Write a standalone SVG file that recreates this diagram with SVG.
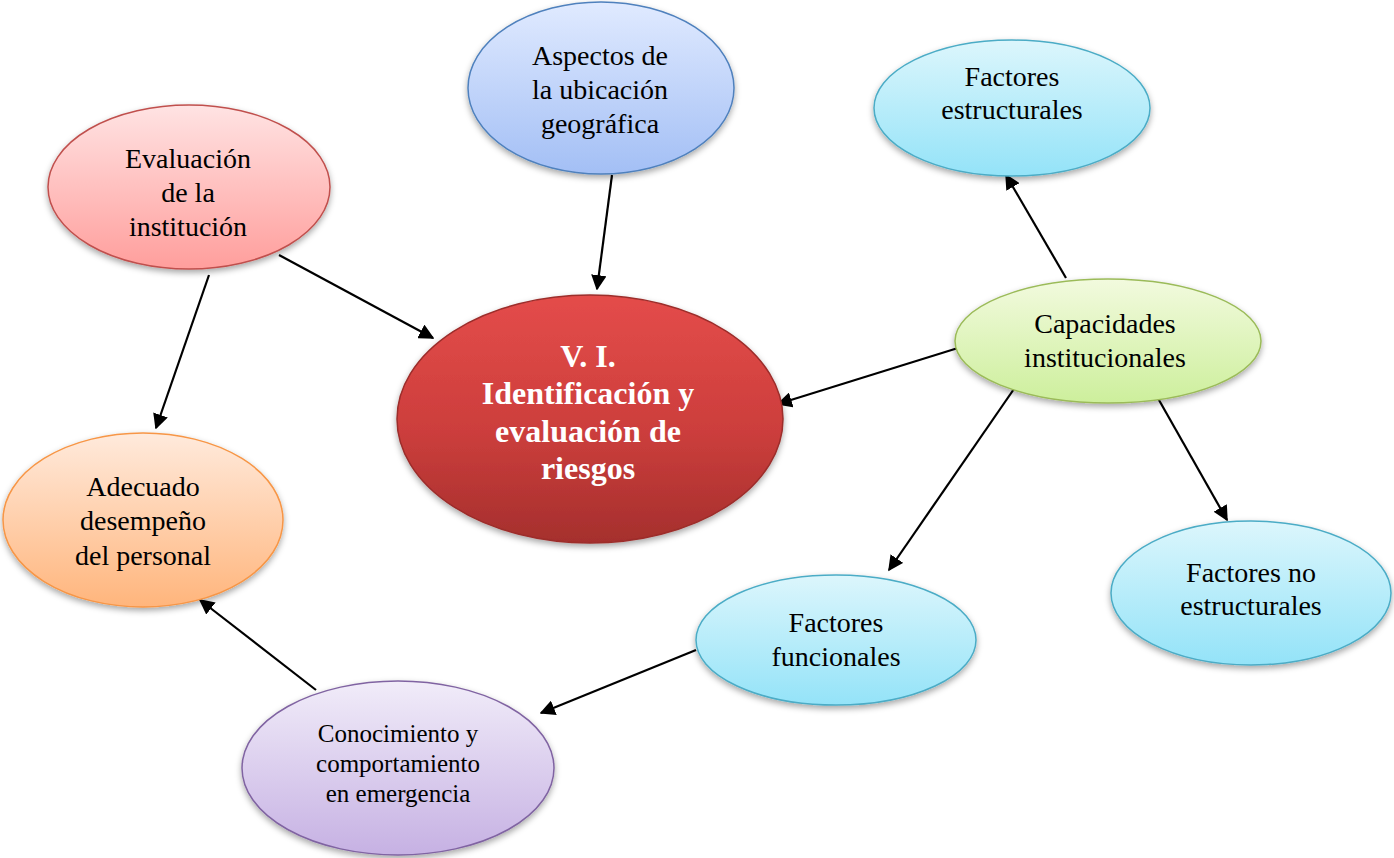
<svg xmlns="http://www.w3.org/2000/svg" width="1394" height="858" viewBox="0 0 1394 858">
  <defs>
    <linearGradient id="gRed" x1="0" y1="0" x2="0" y2="1">
      <stop offset="0" stop-color="#e44c4a"/>
      <stop offset="0.55" stop-color="#cc3e3c"/>
      <stop offset="1" stop-color="#a52f2d"/>
    </linearGradient>
    <linearGradient id="gPink" x1="0" y1="0" x2="0" y2="1">
      <stop offset="0" stop-color="#ffe3e3"/>
      <stop offset="1" stop-color="#ff9e9c"/>
    </linearGradient>
    <linearGradient id="gBlue" x1="0" y1="0" x2="0" y2="1">
      <stop offset="0" stop-color="#e0eaff"/>
      <stop offset="1" stop-color="#a3bff5"/>
    </linearGradient>
    <linearGradient id="gCyan" x1="0" y1="0" x2="0" y2="1">
      <stop offset="0" stop-color="#dcf6fc"/>
      <stop offset="1" stop-color="#94e3f8"/>
    </linearGradient>
    <linearGradient id="gGreen" x1="0" y1="0" x2="0" y2="1">
      <stop offset="0" stop-color="#f2fade"/>
      <stop offset="1" stop-color="#cdef9c"/>
    </linearGradient>
    <linearGradient id="gOrange" x1="0" y1="0" x2="0" y2="1">
      <stop offset="0" stop-color="#ffeadc"/>
      <stop offset="1" stop-color="#ffb57c"/>
    </linearGradient>
    <linearGradient id="gPurple" x1="0" y1="0" x2="0" y2="1">
      <stop offset="0" stop-color="#f1ecf9"/>
      <stop offset="1" stop-color="#c6b1e3"/>
    </linearGradient>
    <filter id="shadow" x="-10%" y="-10%" width="120%" height="130%">
      <feDropShadow dx="0" dy="3" stdDeviation="3" flood-color="#000" flood-opacity="0.35"/>
    </filter>
    <marker id="arrow" viewBox="0 0 10 10" refX="9" refY="5" markerWidth="7" markerHeight="7" markerUnits="strokeWidth" orient="auto">
      <path d="M0,0 L10,5 L0,10 Z" fill="#000"/>
    </marker>
  </defs>
  <style>
    .node ellipse { stroke-width: 1.5; filter: url(#shadow); }
    .lbl { font-family: "Liberation Serif", "Times New Roman", serif; font-size: 28px; fill: #000; text-anchor: middle; }
    .small { font-size: 25px; }
    .main { font-family: "Liberation Serif", "Times New Roman", serif; font-size: 32px; font-weight: bold; fill: #fff; text-anchor: middle; }
    .conn line { stroke: #000; stroke-width: 2.2; marker-end: url(#arrow); }
  </style>

  <g id="connectors" class="conn">
    <line x1="612" y1="175" x2="597" y2="289"/>
    <line x1="279" y1="255" x2="433" y2="338"/>
    <line x1="209" y1="275" x2="156" y2="428"/>
    <line x1="958" y1="348" x2="778" y2="404"/>
    <line x1="1066" y1="278" x2="1006" y2="175"/>
    <line x1="1155" y1="393" x2="1227" y2="520"/>
    <line x1="1016" y1="386" x2="889" y2="570"/>
    <line x1="696" y1="650" x2="541" y2="713"/>
    <line x1="316" y1="690" x2="200" y2="600"/>
  </g>

  <g id="node-central" class="node">
    <ellipse cx="590" cy="419" rx="193" ry="124" fill="url(#gRed)" stroke="#9c2d2b"/>
    <text class="main" x="590"><tspan x="588" y="367">V. I.</tspan><tspan x="588" y="404">Identificación y</tspan><tspan x="588" y="442">evaluación de</tspan><tspan x="588" y="479">riesgos</tspan></text>
  </g>

  <g id="node-evaluacion" class="node">
    <ellipse cx="189" cy="187" rx="141" ry="82" fill="url(#gPink)" stroke="#c0504d"/>
    <text class="lbl"><tspan x="188" y="168">Evaluación</tspan><tspan x="188" y="202">de la</tspan><tspan x="188" y="236">institución</tspan></text>
  </g>

  <g id="node-aspectos" class="node">
    <ellipse cx="601" cy="88" rx="133" ry="86" fill="url(#gBlue)" stroke="#4f81bd"/>
    <text class="lbl"><tspan x="600" y="65">Aspectos de</tspan><tspan x="600" y="99">la ubicación</tspan><tspan x="600" y="133">geográfica</tspan></text>
  </g>

  <g id="node-estructurales" class="node">
    <ellipse cx="1012" cy="108" rx="138" ry="68" fill="url(#gCyan)" stroke="#4bacc6"/>
    <text class="lbl"><tspan x="1012" y="86">Factores</tspan><tspan x="1012" y="119">estructurales</tspan></text>
  </g>

  <g id="node-capacidades" class="node">
    <ellipse cx="1108" cy="341" rx="153" ry="62" fill="url(#gGreen)" stroke="#9bbb59"/>
    <text class="lbl"><tspan x="1105" y="333">Capacidades</tspan><tspan x="1105" y="367">institucionales</tspan></text>
  </g>

  <g id="node-adecuado" class="node">
    <ellipse cx="143" cy="520" rx="140" ry="87" fill="url(#gOrange)" stroke="#f79646"/>
    <text class="lbl"><tspan x="143" y="496">Adecuado</tspan><tspan x="143" y="530">desempeño</tspan><tspan x="143" y="565">del personal</tspan></text>
  </g>

  <g id="node-no-estructurales" class="node">
    <ellipse cx="1251" cy="593" rx="140" ry="72" fill="url(#gCyan)" stroke="#4bacc6"/>
    <text class="lbl"><tspan x="1251" y="582">Factores no</tspan><tspan x="1251" y="615">estructurales</tspan></text>
  </g>

  <g id="node-funcionales" class="node">
    <ellipse cx="836" cy="640" rx="140" ry="65" fill="url(#gCyan)" stroke="#4bacc6"/>
    <text class="lbl"><tspan x="836" y="632">Factores</tspan><tspan x="836" y="666">funcionales</tspan></text>
  </g>

  <g id="node-conocimiento" class="node">
    <ellipse cx="398" cy="768" rx="156" ry="87" fill="url(#gPurple)" stroke="#8064a2"/>
    <text class="lbl small"><tspan x="398" y="742">Conocimiento y</tspan><tspan x="398" y="772">comportamiento</tspan><tspan x="398" y="802">en emergencia</tspan></text>
  </g>
</svg>
